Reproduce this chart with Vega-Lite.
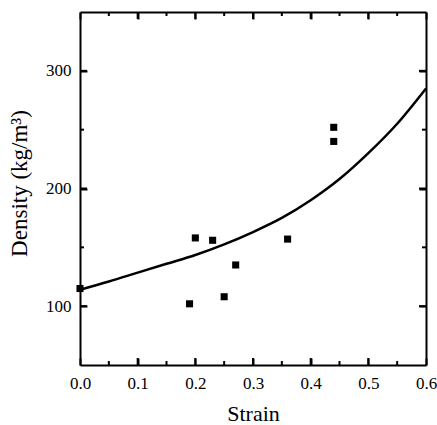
{
  "$schema": "https://vega.github.io/schema/vega-lite/v6.json",
  "width": 346,
  "height": 353,
  "autosize": "none",
  "padding": {"left": 80, "top": 12, "right": 11, "bottom": 60},
  "background": "white",
  "config": {
    "view": {"stroke": null},
    "axis": {
      "grid": false,
      "labelFlush": false,
      "labelFont": "Liberation Serif",
      "labelFontSize": 17,
      "labelColor": "black",
      "titleFont": "Liberation Serif",
      "titleFontSize": 22,
      "titleFontWeight": "normal",
      "titleColor": "black"
    }
  },
  "datasets": {
    "curve": [
      {"strain": 0.0, "density": 114},
      {"strain": 0.05, "density": 121},
      {"strain": 0.1, "density": 128.5},
      {"strain": 0.15, "density": 136},
      {"strain": 0.2, "density": 143.5},
      {"strain": 0.25, "density": 152.5},
      {"strain": 0.3, "density": 163},
      {"strain": 0.35, "density": 175},
      {"strain": 0.4, "density": 190},
      {"strain": 0.45, "density": 208},
      {"strain": 0.5, "density": 230},
      {"strain": 0.55, "density": 255},
      {"strain": 0.6, "density": 285}
    ],
    "points": [
      {"strain": 0.0, "density": 115},
      {"strain": 0.19, "density": 102},
      {"strain": 0.2, "density": 158},
      {"strain": 0.23, "density": 156},
      {"strain": 0.25, "density": 108},
      {"strain": 0.27, "density": 135},
      {"strain": 0.36, "density": 157},
      {"strain": 0.44, "density": 252},
      {"strain": 0.44, "density": 240}
    ],
    "xmajor": [{"v": 0.1}, {"v": 0.2}, {"v": 0.3}, {"v": 0.4}, {"v": 0.5}],
    "xminor": [{"v": 0.05}, {"v": 0.15}, {"v": 0.25}, {"v": 0.35}, {"v": 0.45}, {"v": 0.55}],
    "ymajor": [{"v": 100}, {"v": 200}, {"v": 300}],
    "yminor": [{"v": 150}, {"v": 250}]
  },
  "layer": [
    {
      "data": {"name": "curve"},
      "mark": {"type": "line", "color": "black", "strokeWidth": 2.5, "interpolate": "monotone", "clip": true},
      "encoding": {
        "x": {"field": "strain", "type": "quantitative", "scale": {"domain": [0, 0.6], "nice": false},
          "axis": {"orient": "bottom", "values": [0, 0.1, 0.2, 0.3, 0.4, 0.5, 0.6], "format": ".1f", "domain": true, "domainColor": "black", "domainWidth": 2, "ticks": true, "tickColor": "black", "tickWidth": 2, "tickSize": -7, "labelPadding": 17, "title": "Strain", "titlePadding": 12}},
        "y": {"field": "density", "type": "quantitative", "scale": {"domain": [50, 350], "nice": false},
          "axis": {"orient": "left", "values": [100, 200, 300], "domain": true, "domainColor": "black", "domainWidth": 2, "ticks": true, "tickColor": "black", "tickWidth": 2, "tickSize": -7, "labelPadding": 16, "title": "Density (kg/m³)", "titleFontSize": 23, "titlePadding": 14, "titleY": 171}}
      }
    },
    {
      "data": {"name": "points"},
      "mark": {"type": "square", "color": "black", "opacity": 1, "size": 50},
      "encoding": {
        "x": {"field": "strain", "type": "quantitative", "axis": {"orient": "top", "values": [0, 0.1, 0.2, 0.3, 0.4, 0.5, 0.6], "domain": true, "domainColor": "black", "domainWidth": 2, "ticks": true, "tickColor": "black", "tickWidth": 2, "tickSize": -7, "labels": false, "title": null}},
        "y": {"field": "density", "type": "quantitative", "axis": {"orient": "right", "values": [100, 200, 300], "domain": true, "domainColor": "black", "domainWidth": 2, "ticks": true, "tickColor": "black", "tickWidth": 2, "tickSize": -7, "labels": false, "title": null}}
      }
    },
    {
      "data": {"name": "xmajor"},
      "mark": {"type": "tick", "orient": "vertical", "size": 14, "thickness": 2, "color": "black", "opacity": 1, "clip": true},
      "encoding": {
        "x": {"field": "v", "type": "quantitative", "axis": null},
        "y": {"datum": 50, "type": "quantitative", "axis": null}
      }
    },
    {
      "data": {"name": "xmajor"},
      "mark": {"type": "tick", "orient": "vertical", "size": 14, "thickness": 2, "color": "black", "opacity": 1, "clip": true},
      "encoding": {
        "x": {"field": "v", "type": "quantitative", "axis": null},
        "y": {"datum": 350, "type": "quantitative", "axis": null}
      }
    },
    {
      "data": {"name": "xminor"},
      "mark": {"type": "tick", "orient": "vertical", "size": 8, "thickness": 2, "color": "black", "opacity": 1, "clip": true},
      "encoding": {
        "x": {"field": "v", "type": "quantitative", "axis": null},
        "y": {"datum": 50, "type": "quantitative", "axis": null}
      }
    },
    {
      "data": {"name": "xminor"},
      "mark": {"type": "tick", "orient": "vertical", "size": 8, "thickness": 2, "color": "black", "opacity": 1, "clip": true},
      "encoding": {
        "x": {"field": "v", "type": "quantitative", "axis": null},
        "y": {"datum": 350, "type": "quantitative", "axis": null}
      }
    },
    {
      "data": {"name": "ymajor"},
      "mark": {"type": "tick", "orient": "horizontal", "size": 14, "thickness": 2, "color": "black", "opacity": 1, "clip": true},
      "encoding": {
        "y": {"field": "v", "type": "quantitative", "axis": null},
        "x": {"datum": 0, "type": "quantitative", "axis": null}
      }
    },
    {
      "data": {"name": "ymajor"},
      "mark": {"type": "tick", "orient": "horizontal", "size": 14, "thickness": 2, "color": "black", "opacity": 1, "clip": true},
      "encoding": {
        "y": {"field": "v", "type": "quantitative", "axis": null},
        "x": {"datum": 0.6, "type": "quantitative", "axis": null}
      }
    },
    {
      "data": {"name": "yminor"},
      "mark": {"type": "tick", "orient": "horizontal", "size": 8, "thickness": 2, "color": "black", "opacity": 1, "clip": true},
      "encoding": {
        "y": {"field": "v", "type": "quantitative", "axis": null},
        "x": {"datum": 0, "type": "quantitative", "axis": null}
      }
    },
    {
      "data": {"name": "yminor"},
      "mark": {"type": "tick", "orient": "horizontal", "size": 8, "thickness": 2, "color": "black", "opacity": 1, "clip": true},
      "encoding": {
        "y": {"field": "v", "type": "quantitative", "axis": null},
        "x": {"datum": 0.6, "type": "quantitative", "axis": null}
      }
    }
  ],
  "resolve": {"axis": {"x": "independent", "y": "independent"}}
}
